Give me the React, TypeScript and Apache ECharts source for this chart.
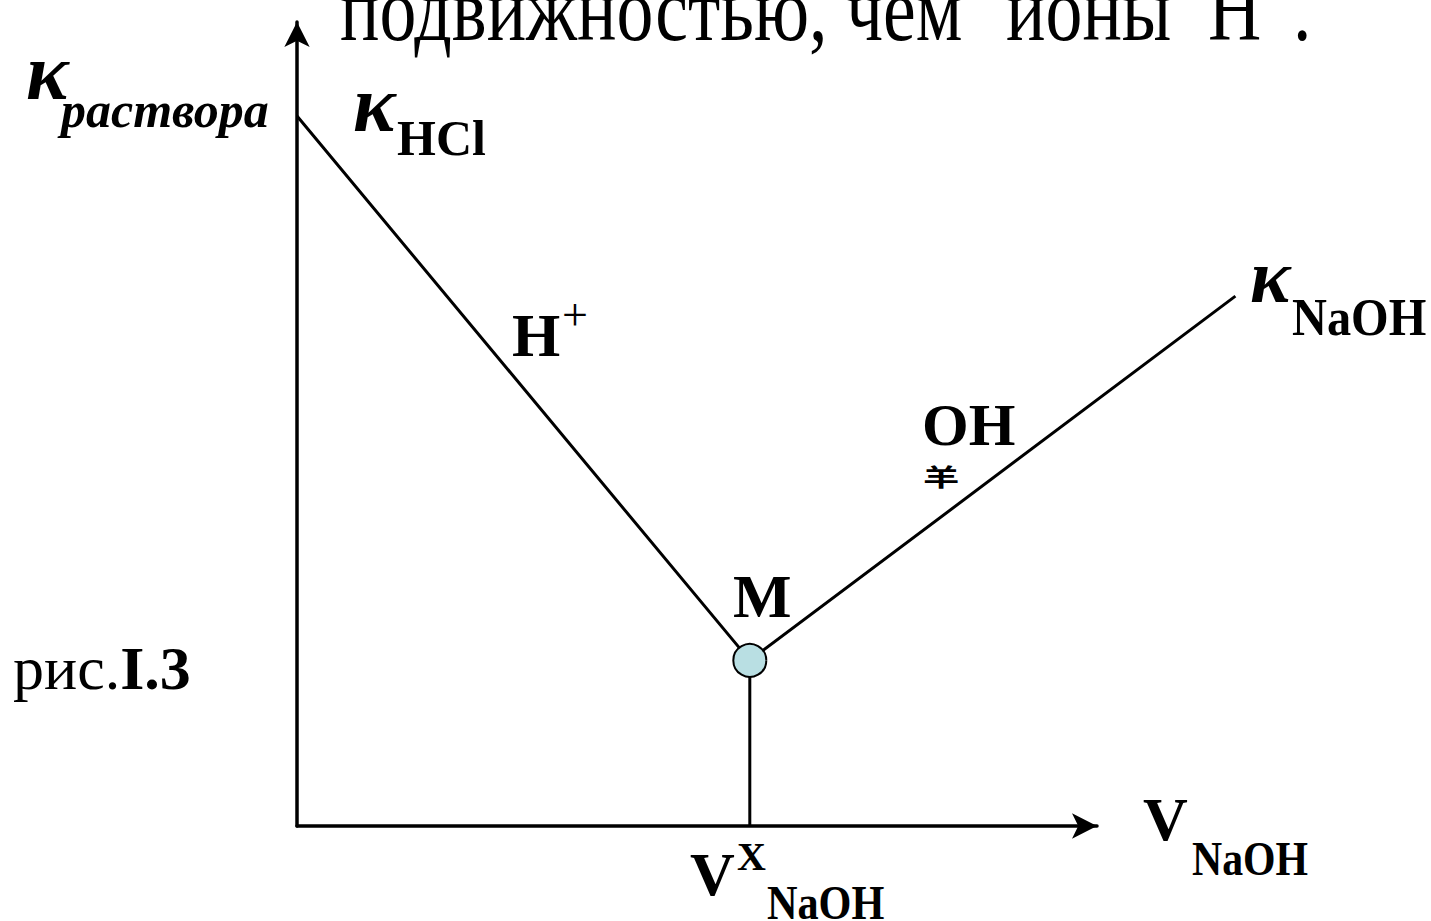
import React, { useEffect, useRef } from "react";
import * as echarts from "echarts";

// Conductometric titration curve (relative units)
const volumeNaOH = [0, 56.6, 117.3];
const conductivity = [88.3, 20.6, 65.9];
const equivalenceVolume = [56.6, 56.6];
const equivalenceKappa = [0, 20.6];
const axisMin = 0;
const axisMax = 100;
const dataAxisMax = 130;

const SERIF = '"Liberation Serif", "Times New Roman", serif';

function txt(
  text: string,
  x: number,
  y: number,
  fontSize: number,
  opts: { bold?: boolean; italic?: boolean; scaleX?: number; scaleY?: number; family?: string } = {}
) {
  return {
    type: "text",
    x,
    y,
    scaleX: opts.scaleX ?? 1,
    scaleY: opts.scaleY ?? 1,
    silent: true,
    style: {
      text,
      fill: "#000",
      fontSize,
      fontFamily: opts.family ?? SERIF,
      fontWeight: opts.bold ? "bold" : "normal",
      fontStyle: opts.italic ? "italic" : "normal",
      align: "left",
      verticalAlign: "middle",
    },
  };
}

export default function App() {
  const ref = useRef<HTMLDivElement>(null);
  useEffect(() => {
    if (!ref.current) return;
    const chart = echarts.init(ref.current, null, { renderer: "svg" });
    const curve = volumeNaOH.map((v, i) => [v, conductivity[i]]);
    const drop = equivalenceVolume.map((v, i) => [v, equivalenceKappa[i]]);
    const hidden = {
      axisLine: { show: false },
      axisTick: { show: false },
      axisLabel: { show: false },
      splitLine: { show: false },
    };
    const arrowAxis = {
      type: "value",
      min: axisMin,
      max: axisMax,
      gridIndex: 1,
      axisLine: {
        show: true,
        symbol: ["none", "arrow"],
        symbolSize: [19, 25],
        lineStyle: { color: "#000", width: 3.5 },
      },
      axisTick: { show: false },
      axisLabel: { show: false },
      splitLine: { show: false },
    };
    // px per unit on the arrow axes: (1097-297)/100 = 8
    const dataGridRight = 1431 - (297 + dataAxisMax * 8);
    chart.setOption({
      animation: false,
      backgroundColor: "#fff",
      grid: [
        { left: 297, top: 22, right: dataGridRight, bottom: 95 },
        { left: 297, top: 22, right: 1431 - 1097, bottom: 95 },
      ],
      xAxis: [
        { type: "value", min: axisMin, max: dataAxisMax, gridIndex: 0, ...hidden },
        { ...arrowAxis },
      ],
      yAxis: [
        { type: "value", min: axisMin, max: axisMax, gridIndex: 0, ...hidden },
        { ...arrowAxis },
      ],
      series: [
        {
          type: "line",
          xAxisIndex: 0,
          yAxisIndex: 0,
          data: drop,
          symbol: "none",
          lineStyle: { color: "#000", width: 3 },
          z: 2,
        },
        {
          type: "line",
          xAxisIndex: 0,
          yAxisIndex: 0,
          data: curve,
          symbol: "none",
          lineStyle: { color: "#000", width: 3 },
          z: 2,
        },
        {
          type: "scatter",
          xAxisIndex: 0,
          yAxisIndex: 0,
          data: [curve[1]],
          symbol: "circle",
          symbolSize: 33,
          itemStyle: { color: "#b9dfe3", borderColor: "#000", borderWidth: 2, opacity: 1 },
          z: 5,
        },
      ],
      graphic: [
        // top caption (cut off by the page edge)
        txt("подвижностью, чем", 340, 10, 90, { scaleX: 0.82 }),
        txt("ионы", 1006, 10, 90, { scaleX: 0.82 }),
        txt("H", 1208, 10, 90, { scaleX: 0.82 }),
        txt("+", 1262, -24, 52, { scaleX: 0.82 }),
        txt(".", 1293, 10, 90, { scaleX: 0.82 }),
        // y axis label
        txt("κ", 26, 72, 80, { bold: true, italic: true }),
        txt("раствора", 61, 110, 50, { bold: true, italic: true }),
        // kappa HCl
        txt("κ", 353, 104, 80, { bold: true, italic: true }),
        txt("HCl", 397, 138, 50, { bold: true }),
        // H+
        txt("H", 512, 335, 62, { bold: true }),
        txt("+", 562, 314, 46),
        // OH-
        txt("OH", 922, 425, 60, { bold: true }),
        txt("羊", 923, 476, 26, { bold: true, scaleX: 1.4, scaleY: 0.9, family: '"Noto Sans CJK SC", sans-serif' }),
        // M
        txt("M", 733, 596, 62, { bold: true }),
        // kappa NaOH
        txt("κ", 1250, 276, 76, { bold: true, italic: true }),
        txt("NaOH", 1292, 317, 52, { bold: true, scaleX: 0.93 }),
        // x axis label
        txt("V", 1143, 819, 62, { bold: true }),
        txt("NaOH", 1192, 859, 48, { bold: true, scaleX: 0.87 }),
        // equivalence volume
        txt("V", 690, 874, 62, { bold: true }),
        txt("X", 737, 856, 40, { bold: true }),
        txt("NaOH", 767, 903, 48, { bold: true, scaleX: 0.88 }),
        // figure caption
        {
          type: "text",
          x: 13,
          y: 668,
          silent: true,
          style: {
            text: "{a|рис.}{b|I.3}",
            align: "left",
            verticalAlign: "middle",
            rich: {
              a: { fontSize: 62, fontFamily: SERIF, fill: "#000" },
              b: { fontSize: 62, fontFamily: SERIF, fontWeight: "bold", fill: "#000" },
            },
          },
        },
      ],
    });
    return () => chart.dispose();
  }, []);
  return (
    <div
      ref={ref}
      style={{ position: "fixed", left: 0, top: 0, width: 1431, height: 921, background: "#fff" }}
    />
  );
}
